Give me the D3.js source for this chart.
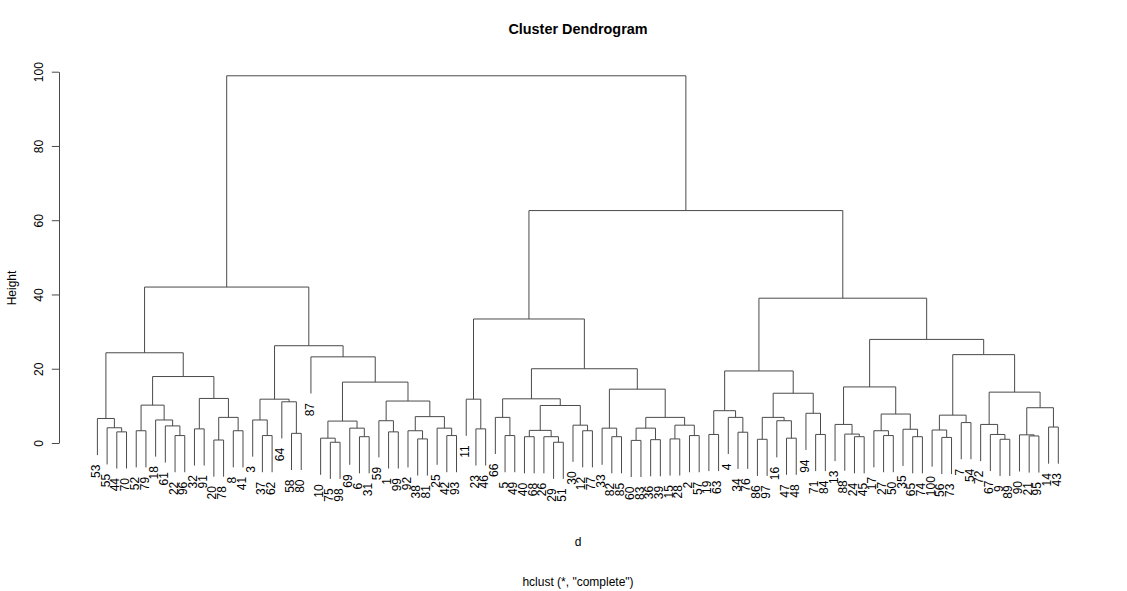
<!DOCTYPE html>
<html><head><meta charset="utf-8">
<script src="https://cdn.jsdelivr.net/npm/d3@7"></script>
<style>
body{margin:0;background:#fff}
svg{display:block}
text{font-family:"Liberation Sans",Arial,Helvetica,sans-serif;fill:#000}
</style>
</head><body>
<svg id="chart" width="1127" height="591"></svg>
<script>
// ---------------- data ----------------
const leafOrder = [53,55,44,70,52,79,18,61,22,96,32,91,20,78,8,41,3,37,62,64,58,80,87,10,75,98,69,6,31,59,1,99,92,38,81,25,42,93,
  11,23,46,66,5,49,40,68,26,29,51,30,12,77,33,82,85,60,83,36,39,15,28,2,57,
  19,63,4,34,76,86,97,16,47,48,94,71,84,13,88,24,45,17,27,50,35,65,74,100,56,73,7,54,72,67,9,89,90,21,95,14,43];

// hclust-style merge table: negative = observation, positive = earlier merge (1-based)
const mergeLeft = [
  -44,-55,-53,-52,-22,-61,-18,4,-32,-20,-8,10,9,8,3,-37,-3,-58,-64,17,-75,-10,-6,-69,22,-1,-59,-38,-92,-42,-25,29,27,25,-87,20,15,
  -23,-11,-5,-66,-40,-29,-26,42,-12,-30,45,41,-82,-33,-60,-36,52,-15,-2,55,54,51,49,39,
  -19,-34,-4,62,-86,-47,-16,66,-71,-94,69,65,-24,-88,-13,-27,-17,-65,-35,78,76,-56,-100,-7,84,-9,-67,-72,-21,-90,-14,91,89,86,82,73,61,37];
const mergeRight = [
  -70,1,2,-79,-96,5,6,7,-91,-78,-41,11,12,13,14,-62,16,-80,18,19,-98,21,-31,23,24,-99,26,-81,28,-93,30,31,32,33,34,35,36,
  -46,38,-49,40,-68,-51,43,44,-77,46,47,48,-85,50,-83,-39,53,-28,-57,56,57,58,59,60,
  -63,-76,63,64,-97,-48,67,68,-84,70,71,72,-45,74,75,-50,77,-74,79,80,81,-73,83,-54,85,-89,87,88,-95,90,-43,92,93,94,95,96,97,98];
const mergeHeight = [
  3.0,4.1,6.6,3.3,2.0,4.6,6.2,10.2,3.8,0.8,3.3,6.9,12.0,17.9,24.3,2.0,6.2,2.6,11.1,11.8,0.2,1.3,1.7,4.0,5.9,3.0,6.0,1.1,3.3,2.0,4.0,7.1,11.3,16.4,23.2,26.2,42.0,
  3.8,11.8,2.0,6.9,1.7,0.2,1.7,3.4,3.3,4.8,10.1,11.9,1.7,4.0,0.7,0.9,4.0,1.1,2.0,4.8,6.9,14.5,20.0,33.4,
  2.3,2.9,6.9,8.7,1.0,1.3,6.0,6.9,2.3,8.0,13.4,19.4,1.7,2.4,5.0,2.0,3.3,1.7,3.7,7.8,15.1,1.5,3.5,5.5,7.5,1.0,2.3,5.0,1.9,2.2,4.3,9.5,13.7,23.8,27.9,39.0,62.6,98.9];

const yTicks = [0,20,40,60,80,100];
const titleText = "Cluster Dendrogram";
const xLabelText = "d";
const subText = 'hclust (*, "complete")';
const yLabelText = "Height";

// ---------------- layout ----------------
const hang = 9.87;               // leaf hang (0.1 * height range)
const labelGap = 9.5;
const lineColor = "#4a4a4a";
const svg = d3.select("#chart");

const x = d3.scaleLinear().domain([1, leafOrder.length]).range([97.4, 1058.3]);
const y = d3.scaleLinear().domain([0, 100]).range([443, 71.7]);

// build tree from merge table
const built = [];
const ref = v => v < 0 ? {name: String(-v)} : built[v - 1];
mergeLeft.forEach((l, i) => {
  built.push({name: "m" + (i + 1), height: mergeHeight[i], children: [ref(l), ref(mergeRight[i])]});
});
const root = d3.hierarchy(built[built.length - 1]);

root.eachAfter(n => {
  if (!n.children) {
    n.px = x(leafOrder.indexOf(+n.data.name) + 1);
  } else {
    n.px = (n.children[0].px + n.children[1].px) / 2;
    n.py = y(n.data.height);
  }
});
root.leaves().forEach(n => { n.py = y(n.parent.data.height - hang); });

// links
const g = svg.append("g");
g.selectAll("path.merge")
  .data(root.descendants().filter(n => n.children))
  .join("path")
  .attr("class", "merge")
  .attr("fill", "none")
  .attr("stroke", lineColor)
  .attr("stroke-width", 1)
  .attr("d", n => {
    const [a, b] = n.children;
    return `M${a.px},${a.py}V${n.py}H${b.px}V${b.py}`;
  });

// leaf labels
g.selectAll("text.leaf")
  .data(root.leaves())
  .join("text")
  .attr("class", "leaf")
  .attr("transform", n => `translate(${n.px + 2.6},${n.py + labelGap}) rotate(-90)`)
  .attr("text-anchor", "end")
  .style("font-size", "12px")
  .text(n => n.data.name);

// y axis
const ax = svg.append("g")
  .attr("transform", "translate(59,0)")
  .call(d3.axisLeft(y).tickValues(yTicks).tickSize(7.2).tickSizeOuter(0).tickFormat(d3.format("d")));
ax.select(".domain").attr("stroke", lineColor);
ax.selectAll(".tick line").attr("stroke", lineColor);
ax.selectAll(".tick text")
  .attr("transform", "rotate(-90)")
  .attr("x", 0).attr("y", -16).attr("dy", 0)
  .attr("text-anchor", "middle")
  .style("font-size", "12px")
  .style("font-family", '"Liberation Sans",Arial,Helvetica,sans-serif')
  .attr("fill", "#000");

// titles
svg.append("text").attr("x", 578).attr("y", 34).attr("text-anchor", "middle")
  .style("font-size", "14.4px").style("font-weight", "bold").text(titleText);
svg.append("text").attr("x", 578).attr("y", 545.5).attr("text-anchor", "middle")
  .style("font-size", "12px").text(xLabelText);
svg.append("text").attr("x", 578).attr("y", 585.5).attr("text-anchor", "middle")
  .style("font-size", "12px").text(subText);
svg.append("text").attr("transform", "translate(15.8,288) rotate(-90)").attr("text-anchor", "middle")
  .style("font-size", "12px").text(yLabelText);
</script>
</body></html>
